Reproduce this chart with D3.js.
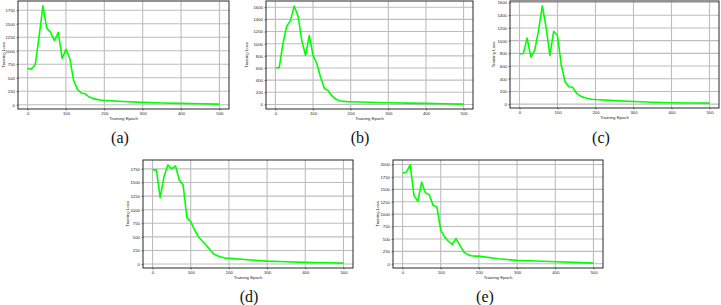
<!DOCTYPE html>
<html>
<head>
<meta charset="utf-8">
<script src="https://cdn.jsdelivr.net/npm/d3@7"></script>
<style>
  body { margin: 0; background: #fff; }
  svg { display: block; }
  .tick text { font-family: "Liberation Sans", Arial, sans-serif; font-size: 4.3px; fill: #222; }
  .lbl { font-family: "Liberation Sans", Arial, sans-serif; font-size: 4.3px; fill: #222; }
  .cap { font-family: "Liberation Serif", "DejaVu Serif", serif; font-size: 16px; fill: #111; }
</style>
</head>
<body>
<div id="chart"></div>
<script>
// epochs (every 10 up to 200, then coarser)
var epochs = [0,10,20,30,40,50,60,70,80,90,100,110,120,130,140,150,160,170,180,190,200,250,300,350,400,450,500];

var lossA = [670,660,745,1260,1830,1415,1340,1185,1340,857,1025,857,453,280,217,205,143,118,99,87,80,60,43,32,25,18,12];
var lossB = [604,604,1000,1290,1380,1622,1456,1057,808,1135,808,670,448,266,227,144,89,61,50,46,44,36,28,22,17,11,6];
var lossC = [795,795,1040,743,847,1158,1548,1210,769,1148,1080,613,353,275,265,171,130,104,88,78,73,55,42,30,21,18,16];
var lossD = [1731,1731,1222,1608,1823,1750,1805,1547,1455,853,780,626,503,424,350,270,184,153,129,110,104,78,55,42,31,24,18];
var lossE = [1833,1846,1993,1378,1258,1645,1431,1391,1177,1144,676,542,455,388,508,375,241,187,161,154,154,100,67,55,40,28,13];

var xTicks = [0,100,200,300,400,500];
var yTicks250 = [0,250,500,750,1000,1250,1500,1750];
var yTicks200 = [0,200,400,600,800,1000,1200,1400,1600];
var yTicksE = [0,250,500,750,1000,1250,1500,1750,2000];

var captions = ["(a)","(b)","(c)","(d)","(e)"];

// =====================
var W = 721, H = 305;

var panels = [
    {loss: lossA, yt: yTicks250, l: 18,  r: 229, t: 1,   b: 109, yl: 3,   cx: 120, cy: 143},
    {loss: lossB, yt: yTicks200, l: 266, r: 473, t: 1,   b: 109, yl: 246, cx: 360, cy: 143},
    {loss: lossC, yt: yTicks200, l: 510, r: 719, t: 1,   b: 108, yl: 493, cx: 601, cy: 143},
    {loss: lossD, yt: yTicks250, l: 143, r: 353, t: 160, b: 268, yl: 127, cx: 249, cy: 302},
    {loss: lossE, yt: yTicksE,   l: 393, r: 603, t: 160, b: 268, yl: 377, cx: 485, cy: 302}
];

var svg = d3.select("#chart")
    .append("svg")
    .attr("width", W)
    .attr("height", H);

panels.forEach(function(p, k){
    var g = svg.append("g");

    // matplotlib-like 5% margins
    var ext = d3.extent(p.loss);
    var pad = (ext[1] - ext[0]) * 0.05;
    var x = d3.scaleLinear().domain([-25, 525]).range([p.l, p.r]);
    var y = d3.scaleLinear().domain([ext[0] - pad, ext[1] + pad]).range([p.b, p.t]);

    // grid
    g.append("g").selectAll("line.gx").data(xTicks).enter().append("line")
        .attr("x1", d => x(d)).attr("x2", d => x(d))
        .attr("y1", p.t).attr("y2", p.b)
        .attr("stroke", "#bdbdbd").attr("stroke-width", 1.1);
    g.append("g").selectAll("line.gy").data(p.yt).enter().append("line")
        .attr("x1", p.l).attr("x2", p.r)
        .attr("y1", d => y(d)).attr("y2", d => y(d))
        .attr("stroke", "#bdbdbd").attr("stroke-width", 1.1);

    // curve
    g.append("path")
        .datum(p.loss)
        .attr("fill", "none")
        .attr("stroke", "#00ff00")
        .attr("stroke-width", 1.6)
        .attr("stroke-linejoin", "round")
        .attr("d", d3.line()
            .x((d, i) => x(epochs[i]))
            .y(d => y(d)));

    // axes
    var xAxis = g.append("g")
        .attr("transform", "translate(0," + p.b + ")")
        .call(d3.axisBottom(x).tickValues(xTicks).tickFormat(d3.format("d")).tickSize(1.5).tickPadding(1.5));
    var yAxis = g.append("g")
        .attr("transform", "translate(" + p.l + ",0)")
        .call(d3.axisLeft(y).tickValues(p.yt).tickFormat(d3.format("d")).tickSize(1.5).tickPadding(1.5));
    [xAxis, yAxis].forEach(function(a){
        a.select(".domain").remove();
        a.selectAll(".tick line").attr("stroke", "#222").attr("stroke-width", 0.6);
    });

    // frame
    g.append("rect")
        .attr("x", p.l).attr("y", p.t)
        .attr("width", p.r - p.l).attr("height", p.b - p.t)
        .attr("fill", "none").attr("stroke", "#111").attr("stroke-width", 0.9);

    g.append("text")
        .attr("class", "lbl")
        .attr("text-anchor", "middle")
        .attr("x", (p.l + p.r) / 2)
        .attr("y", p.b + 10.5)
        .text("Training Epoch");

    g.append("text")
        .attr("class", "lbl")
        .attr("text-anchor", "middle")
        .attr("transform", "translate(" + (p.yl + 2) + "," + ((p.t + p.b) / 2) + ") rotate(-90)")
        .text("Training Loss");

    svg.append("text")
        .attr("class", "cap")
        .attr("text-anchor", "middle")
        .attr("x", p.cx)
        .attr("y", p.cy)
        .text(captions[k]);
});
</script>
</body>
</html>
